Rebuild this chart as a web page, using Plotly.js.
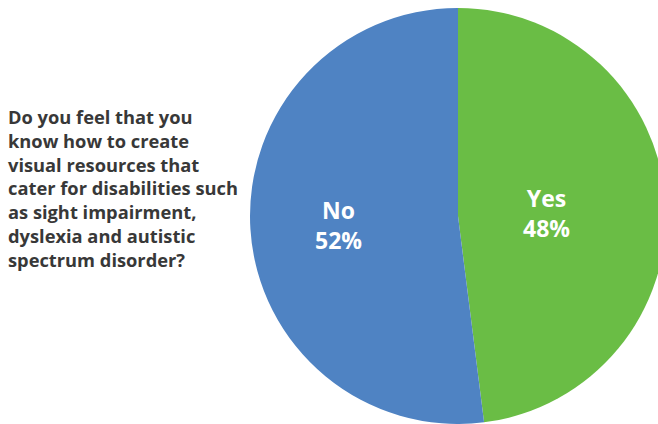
<!DOCTYPE html>
<html>
<head>
<meta charset="utf-8">
<script src="https://cdn.plot.ly/plotly-3.0.1.min.js"></script>
<style>
  html, body { margin: 0; padding: 0; overflow: hidden; background: #ffffff; }
  #chart { width: 700px; height: 424px; }
</style>
</head>
<body>
<div id="chart"></div>
<script>
// Survey answers
const labels = ['Yes', 'No'];
const values = [48, 52];
const colors = ['#6abd45', '#4f83c3'];
const question = 'Do you feel that you<br>know how to create<br>visual resources that<br>cater for disabilities such<br>as sight impairment,<br>dyslexia and autistic<br>spectrum disorder?';

const W = 700, H = 424;
const total = values.reduce((a, b) => a + b, 0);

// Label placement inside each slice (pixel centre of the text block)
const labelPos = [[546, 213], [338, 225]];

const annotations = [{
  text: question,
  xref: 'paper', yref: 'paper',
  x: 6 / W, y: 1 - 188 / H,
  xanchor: 'left', yanchor: 'middle', align: 'left',
  showarrow: false,
  font: { family: '"Open Sans", sans-serif', size: 18.3, color: '#383838', weight: 'bold' }
}];

labels.forEach((lab, i) => {
  annotations.push({
    text: lab + '<br>' + Math.round(values[i] / total * 100) + '%',
    xref: 'paper', yref: 'paper',
    x: labelPos[i][0] / W, y: 1 - labelPos[i][1] / H,
    xanchor: 'center', yanchor: 'middle', align: 'center',
    showarrow: false,
    font: { family: '"Open Sans", sans-serif', size: 23, color: '#ffffff', weight: 'bold' }
  });
});

Plotly.newPlot('chart', [{
  type: 'pie',
  labels: labels,
  values: values,
  sort: false,
  direction: 'clockwise',
  rotation: 0,
  marker: { colors: colors, line: { width: 0 } },
  textinfo: 'none',
  hoverinfo: 'skip',
  domain: { x: [250 / W, 666 / W], y: [0, 1 - 8 / H] }
}], {
  width: W, height: H,
  margin: { l: 0, r: 0, t: 0, b: 0 },
  showlegend: false,
  paper_bgcolor: '#ffffff',
  annotations: annotations
}, { staticPlot: true, displayModeBar: false });
</script>
</body>
</html>
